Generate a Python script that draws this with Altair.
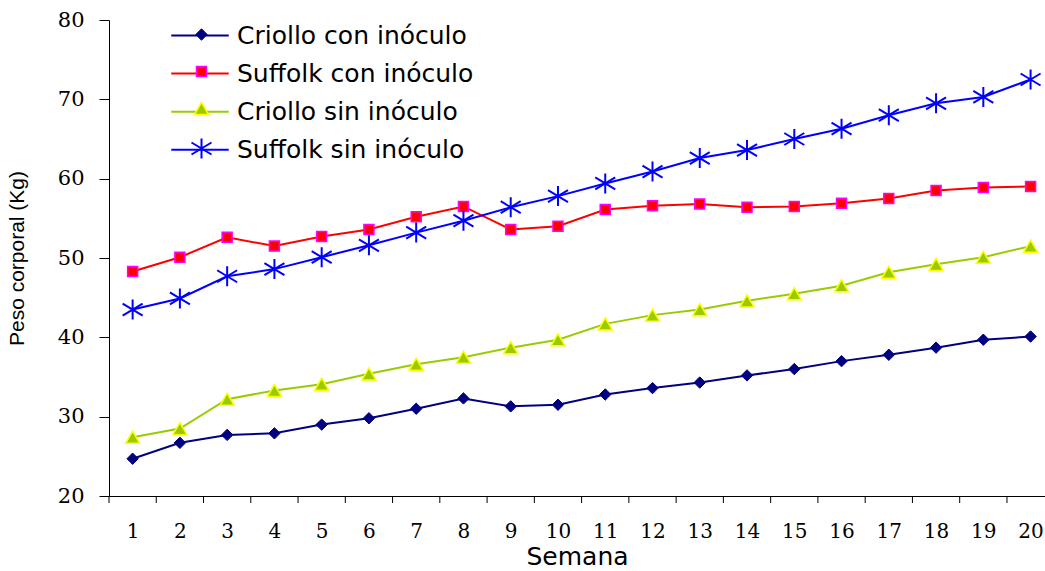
import altair as alt
import pandas as pd

# Weekly body weight (kg) of four lamb groups
semanas = list(range(1, 21))
series = ["Criollo con inóculo", "Suffolk con inóculo", "Criollo sin inóculo", "Suffolk sin inóculo"]

criollo_con = [24.7, 26.7, 27.7, 27.9, 29.0, 29.8, 31.0, 32.3, 31.3, 31.5,
               32.8, 33.6, 34.3, 35.2, 36.0, 37.0, 37.8, 38.7, 39.7, 40.1]
suffolk_con = [48.3, 50.1, 52.6, 51.5, 52.7, 53.6, 55.2, 56.5, 53.6, 54.0,
               56.1, 56.6, 56.8, 56.4, 56.5, 56.9, 57.5, 58.5, 58.9, 59.0]
criollo_sin = [27.4, 28.5, 32.2, 33.3, 34.1, 35.4, 36.6, 37.5, 38.7, 39.7,
               41.7, 42.8, 43.5, 44.6, 45.5, 46.5, 48.2, 49.2, 50.1, 51.5]
suffolk_sin = [43.5, 44.9, 47.7, 48.6, 50.1, 51.6, 53.2, 54.7, 56.4, 57.8,
               59.4, 60.9, 62.6, 63.6, 65.0, 66.3, 68.0, 69.5, 70.3, 72.5]

y_ticks = [20, 30, 40, 50, 60, 70, 80]

# Styling per series
line_colors = ["#000080", "#FF0000", "#99CC00", "#0000FF"]
marker_fill = ["#000080", "#FF0000", "#99CC00", "#0000FF"]
marker_stroke = ["#000080", "#FF00FF", "#FFFF00", "#0000FF"]
asterisk = "M0,-1L0,1M-1,-0.6L1,0.6M-1,0.6L1,-0.6"
marker_shape = ["diamond", "square", "triangle-up", asterisk]
marker_size = [130, 100, 196, 400]
marker_stroke_w = [1, 1.5, 1.5, 2]

# Legend line sample: a long segment drawn from a small nominal symbol size,
# so the legend rows stay compact
legend_line = "M-10,0H10"

rows = []
for name, vals in zip(series, [criollo_con, suffolk_con, criollo_sin, suffolk_sin]):
    for s, v in zip(semanas, vals):
        rows.append({"semana": s, "serie": name, "marca": name, "peso": v})
df = pd.DataFrame(rows)

# Tick marks sit on the boundaries between weeks
ticks_df = pd.DataFrame({"pos": [s - 0.5 for s in semanas]})

W, H = 936, 476
x_scale = alt.Scale(domain=[0.5, 20.305], nice=False, zero=False)
y_scale = alt.Scale(domain=[20, 80], nice=False, zero=False)

x_axis = alt.Axis(values=semanas, ticks=False, grid=False, domainColor="black",
                  labelFont="DejaVu Serif", labelFontSize=20, labelColor="black",
                  labelPadding=25, title="Semana", titleFont="DejaVu Sans",
                  titleFontSize=25, titleFontWeight="normal", titleColor="black",
                  titlePadding=3, labelFlush=False)
y_axis = alt.Axis(values=y_ticks, tickSize=10, tickColor="black", grid=False,
                  domainColor="black", labelFont="DejaVu Serif", labelFontSize=21,
                  labelColor="black", labelPadding=15, title="Peso corporal (Kg)",
                  titleFont="Liberation Sans", titleFontSize=21,
                  titleFontWeight="normal", titleColor="black", titlePadding=30)

base = alt.Chart(df)

lines = base.mark_line(strokeWidth=2).encode(
    x=alt.X("semana:Q", scale=x_scale, axis=x_axis),
    y=alt.Y("peso:Q", scale=y_scale, axis=y_axis),
    color=alt.Color("serie:N", sort=series, scale=alt.Scale(range=line_colors),
                    legend=alt.Legend(title=None, orient="none", legendX=78.5, legendY=3,
                                      symbolType=legend_line, symbolSize=33,
                                      symbolStrokeWidth=2, labelFont="DejaVu Sans",
                                      labelFontSize=25, labelColor="black",
                                      labelLimit=500, labelOffset=24.5, rowPadding=12.1,
                                      padding=0)),
    order="semana:Q",
)

marker_legend = alt.Legend(title=None, orient="none", legendX=81, legendY=3,
                           labelFont="DejaVu Sans", labelFontSize=23,
                           labelExpr="''", rowPadding=13, padding=0,
                           symbolOpacity=1)

mk_domain = series
points = base.mark_point(opacity=1).encode(
    x="semana:Q",
    y="peso:Q",
    shape=alt.Shape("marca:N", scale=alt.Scale(domain=mk_domain, range=marker_shape),
                    legend=marker_legend),
    fill=alt.Fill("marca:N", scale=alt.Scale(domain=mk_domain, range=marker_fill),
                  legend=marker_legend),
    stroke=alt.Stroke("marca:N", scale=alt.Scale(domain=mk_domain, range=marker_stroke),
                      legend=marker_legend),
    size=alt.Size("marca:N", scale=alt.Scale(type="ordinal", domain=mk_domain,
                                             range=marker_size),
                  legend=marker_legend),
    strokeWidth=alt.StrokeWidth("marca:N",
                                scale=alt.Scale(type="ordinal", domain=mk_domain,
                                                range=marker_stroke_w),
                                legend=marker_legend),
)

tick_marks = alt.Chart(ticks_df).mark_rule(color="black", strokeWidth=1).encode(
    x="pos:Q",
    y=alt.value(H),
    y2=alt.value(H + 7),
)

chart = alt.layer(lines, points, tick_marks).properties(
    width=W, height=H,
    autosize=alt.AutoSizeParams(type="none"),
    padding={"left": 109, "top": 20, "right": 0, "bottom": 75},
    background="white",
).configure_view(strokeWidth=0)

chart.save("out.html", embed_options={"renderer": "svg", "actions": False})
